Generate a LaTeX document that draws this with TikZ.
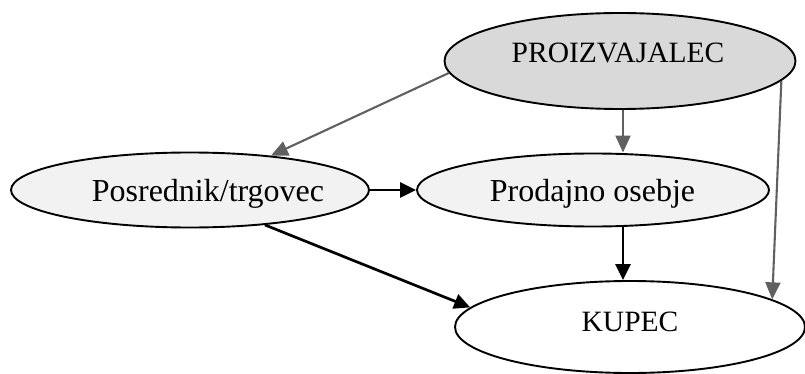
\documentclass[tikz,border=0pt]{standalone}
\usepackage{fontspec}
\setmainfont{Liberation Serif}
\usetikzlibrary{shapes.geometric,arrows.meta}
\definecolor{fillA}{HTML}{D9D9D9}
\definecolor{fillB}{HTML}{F2F2F2}
\definecolor{grayline}{HTML}{606060}
\tikzset{
  ell/.style={ellipse, draw=black, line width=1.9pt, inner sep=0pt},
  lbl/.style={anchor=base, inner sep=0pt},
  capfont/.style={font=\fontsize{29.5}{34}\selectfont},
  lowfont/.style={font=\fontsize{32}{36}\selectfont},
  blackarr/.style={draw=black, line width=2.7pt, -{Triangle[length=16pt,width=15pt]}},
  grayarr/.style={draw=grayline, line width=2.1pt, -{Triangle[length=17pt,width=15pt]}},
}
\begin{document}
\begin{tikzpicture}[x=1pt,y=-1pt]
\useasboundingbox (0,0) rectangle (805,374);
\node[ell, fill=fillA, minimum width=351pt, minimum height=96pt] (P) at (620,61) {};
\node[ell, fill=fillB, minimum width=358pt, minimum height=75pt] (B) at (190,190) {};
\node[ell, fill=fillB, minimum width=352pt, minimum height=73pt] (D) at (593,190) {};
\node[ell, fill=white, minimum width=350pt, minimum height=92pt] (K) at (630,327) {};
\node[lbl, capfont] (Pt) at (618,63) {PROIZVAJALEC};
\node[lbl, lowfont] (Bt) at (208,201.5) {Posrednik/trgovec};
\node[lbl, lowfont] (Dt) at (592.5,201.5) {Prodajno osebje};
\node[lbl, capfont] (Kt) at (630,331.5) {KUPEC};
\coordinate (vx) at (623,0);
\draw[grayarr] (P.184) -- (B.23);
\draw[grayarr] (P.south -| vx) -- (D.north -| vx);
\draw[grayarr] (P.353) -- (K.11);
\draw[blackarr] (B.east) -- (D.west);
\draw[blackarr] (B.335) -- (K.173);
\draw[blackarr] (D.south -| vx) -- (K.north -| vx);
\end{tikzpicture}
\end{document}
